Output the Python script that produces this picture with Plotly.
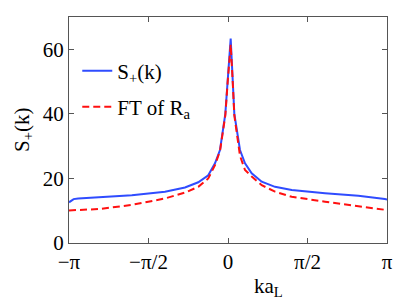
import plotly.graph_objects as go
import math

PI = math.pi

# S_+(k) (blue solid)
k_s = [-3.1416, -3.05, -2.96, -2.56, -1.90, -1.245, -0.85, -0.587, -0.39, -0.257,
       -0.158, -0.053, -0.006, 0.053, 0.093, 0.125, 0.237, 0.336, 0.468, 0.666,
       0.929, 1.259, 1.917, 2.575, 3.10, 3.1416]
s_plus = [12.6, 13.6, 13.8, 14.2, 14.8, 15.9, 17.2, 18.8, 21.0, 24.7,
          28.8, 40.0, 50.4, 63.3, 50.4, 40.0, 28.8, 24.7, 21.6, 19.0,
          17.4, 16.4, 15.4, 14.6, 13.6, 13.5]

# FT of R_a (red dashed)
k_r = [-3.1416, -2.56, -1.90, -1.245, -0.85, -0.587, -0.39, -0.257, -0.158, -0.053,
       -0.006, 0.053, 0.093, 0.125, 0.237, 0.336, 0.468, 0.666, 0.929, 1.259,
       1.917, 2.575, 3.10, 3.1416]
ft_ra = [10.1, 10.5, 11.8, 13.8, 15.6, 17.4, 20.0, 24.1, 28.5, 39.5,
         50.0, 61.5, 50.0, 39.5, 27.0, 22.6, 20.6, 17.9, 15.9, 14.3,
         12.8, 11.4, 10.4, 10.2]

x_tickvals = [-PI, -PI / 2, 0, PI / 2, PI]
x_ticktext = ["\u2212\u03c0", "\u2212\u03c0/2", "0", "\u03c0/2", "\u03c0"]
y_tickvals = [0, 20, 40, 60]

FONT = "Liberation Serif"

fig = go.Figure()
fig.add_trace(go.Scatter(x=k_s, y=s_plus, mode="lines", name="S<sub>+</sub>(k)",
                         line=dict(color="#2f4cff", width=2), legend="legend"))
fig.add_trace(go.Scatter(x=k_r, y=ft_ra, mode="lines", name="FT of R<sub>a</sub>",
                         line=dict(color="#ff1010", width=2, dash="7px,4px"), legend="legend2"))

axis_common = dict(showgrid=False, zeroline=False, showline=True, linecolor="#555555",
                   linewidth=1, mirror="ticks", ticks="inside", ticklen=5,
                   tickcolor="#555555", tickfont=dict(family=FONT, size=21, color="black"))

fig.update_layout(
    width=409, height=300,
    margin=dict(l=69, r=22, t=17, b=57),
    paper_bgcolor="white", plot_bgcolor="white",
    font=dict(family=FONT, size=21, color="black"),
    showlegend=True,
    xaxis=dict(range=[-PI, PI], tickvals=x_tickvals, ticktext=x_ticktext, **axis_common),
    yaxis=dict(range=[0, 70], tickvals=y_tickvals, **axis_common),
    legend=dict(x=0.026, y=0.761, xanchor="left", yanchor="middle", bgcolor="rgba(0,0,0,0)",
                font=dict(family=FONT, size=21), visible=True),
    legend2=dict(x=0.026, y=0.601, xanchor="left", yanchor="middle", bgcolor="rgba(0,0,0,0)",
                 font=dict(family=FONT, size=21), visible=True),
    annotations=[
        dict(text="S<sub>+</sub>(k)", xref="paper", yref="paper", x=0, y=0.5,
             xanchor="center", yanchor="middle", xshift=-46, textangle=-90,
             showarrow=False, font=dict(family=FONT, size=21)),
        dict(text="ka<sub>L</sub>", xref="paper", yref="paper", x=0.628, y=0,
             xanchor="center", yanchor="middle", yshift=-44,
             showarrow=False, font=dict(family=FONT, size=21)),
    ],
)

fig.write_html("out.html", config={"displayModeBar": False},
               post_script="document.body.style.margin='0';")
